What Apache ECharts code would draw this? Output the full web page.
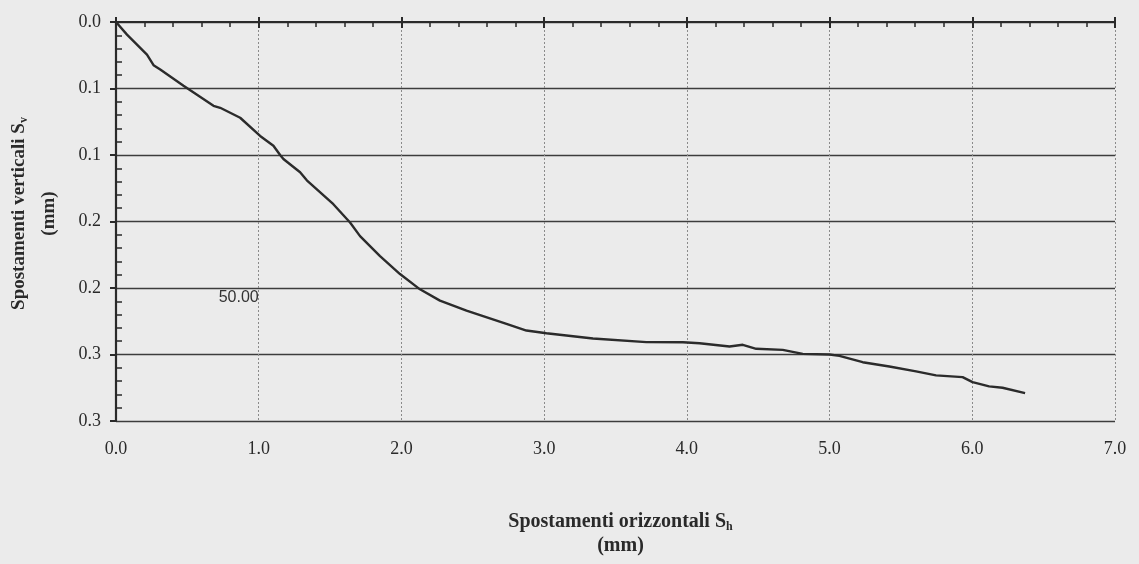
<!DOCTYPE html>
<html>
<head>
<meta charset="utf-8">
<title>Spostamenti verticali / orizzontali</title>
<script src="https://cdn.jsdelivr.net/npm/echarts@6/dist/echarts.min.js"></script>
<style>
  html, body { margin: 0; padding: 0; background: #ebebeb; }
  #chart { width: 1139px; height: 564px; }
</style>
</head>
<body>
<div id="chart"></div>
<script>
// Horizontal displacement Sh (mm) and vertical displacement Sv (mm)
const sh = [0, 0.077, 0.217, 0.263, 0.31, 0.473, 0.683, 0.73, 0.87, 1.01, 1.103, 1.15, 1.173, 1.29, 1.337,
  1.523, 1.64, 1.71, 1.85, 1.99, 2.13, 2.27, 2.456, 2.736, 2.876, 3.016, 3.342, 3.716, 3.972, 4.089,
  4.299, 4.392, 4.486, 4.672, 4.812, 5.0, 5.069, 5.232, 5.419, 5.606, 5.746, 5.932, 6.002, 6.118,
  6.212, 6.37];
const sv = [0, 0.0095, 0.0245, 0.0325, 0.0357, 0.048, 0.063, 0.0645, 0.072, 0.0857, 0.093, 0.1, 0.103, 0.113, 0.119,
  0.137, 0.1508, 0.161, 0.176, 0.1895, 0.201, 0.2095, 0.217, 0.227, 0.232, 0.234, 0.238, 0.2407, 0.2408, 0.2415,
  0.244, 0.2427, 0.2457, 0.2465, 0.2495, 0.25, 0.251, 0.2558, 0.259, 0.2627, 0.2657, 0.267, 0.2708, 0.274,
  0.275, 0.279];

// Tick labels as printed (one decimal)
const xTickLabels = ['0.0', '1.0', '2.0', '3.0', '4.0', '5.0', '6.0', '7.0'];
const yTickLabels = ['0.0', '0.1', '0.1', '0.2', '0.2', '0.3', '0.3'];

// Curve label
const seriesName = '50.00';
const seriesLabelAt = [0.86, 0.207];

const points = sh.map((x, i) => [x, sv[i]]);

const ink = '#2a2a2a';
const serif = 'Liberation Serif';

const chart = echarts.init(document.getElementById('chart'), null, { renderer: 'canvas' });

chart.setOption({
  backgroundColor: '#ebebeb',
  animation: false,
  grid: { left: 116, right: 24, top: 22, bottom: 143, outerBoundsMode: 'none', containLabel: false },
  xAxis: [
    {
      // axis line along Sv = 0 (top), inward ticks and dotted vertical grid
      type: 'value', min: 0, max: 7, interval: 1, position: 'top',
      axisLine: { show: true, onZero: false, lineStyle: { color: ink, width: 2.2 } },
      axisTick: { show: true, inside: true, length: 6, lineStyle: { color: ink, width: 2 } },
      minorTick: { show: true, splitNumber: 5, length: 5, lineStyle: { color: ink, width: 1.5 } },
      axisLabel: { show: false },
      splitLine: { show: true, lineStyle: { color: '#8a8a8a', width: 1, type: [2, 2] } }
    },
    {
      // short outward stubs of the major ticks
      type: 'value', min: 0, max: 7, interval: 1, position: 'top',
      axisLine: { show: false, onZero: false },
      axisTick: { show: true, inside: false, length: 5, lineStyle: { color: ink, width: 2 } },
      axisLabel: { show: false },
      splitLine: { show: false }
    },
    {
      // labels and title below the plot
      type: 'value', min: 0, max: 7, interval: 1, position: 'bottom',
      axisLine: { show: false, onZero: false },
      axisTick: { show: false },
      axisLabel: {
        show: true, margin: 19, color: ink, fontFamily: serif, fontSize: 18,
        formatter: v => xTickLabels[Math.round(v)]
      },
      splitLine: { show: false },
      name: '{b|Spostamenti orizzontali S}{s|h}\n{b|(mm)}',
      nameLocation: 'middle', nameGap: 89,
      nameTextStyle: {
        align: 'center',
        padding: [0, 0, 0, 10],
        rich: {
          b: { fontFamily: serif, fontWeight: 'bold', fontSize: 20, color: ink, lineHeight: 24 },
          s: { fontFamily: serif, fontWeight: 'bold', fontSize: 12, color: ink, padding: [9, 0, 0, 0], lineHeight: 24 }
        }
      }
    }
  ],
  yAxis: [
    {
      type: 'value', inverse: true, min: 0, max: 0.3, interval: 0.05, position: 'left',
      axisLine: { show: true, onZero: false, lineStyle: { color: ink, width: 2.2 } },
      axisTick: { show: true, inside: false, length: 6, lineStyle: { color: ink, width: 2 } },
      axisLabel: {
        show: true, margin: 15, color: ink, fontFamily: serif, fontSize: 18,
        formatter: v => yTickLabels[Math.round(v / 0.05)]
      },
      splitLine: { show: true, lineStyle: { color: '#3c3c3c', width: 1.4 } },
      name: '{b|Spostamenti verticali S}{s|v}\n{b|(mm)}',
      nameLocation: 'middle', nameGap: 52, nameRotate: 90,
      nameTextStyle: {
        align: 'center',
        padding: [0, 0, 0, 16],
        rich: {
          b: { fontFamily: serif, fontWeight: 'bold', fontSize: 19, color: ink, lineHeight: 30 },
          s: { fontFamily: serif, fontWeight: 'bold', fontSize: 12, color: ink, padding: [9, 0, 0, 0], lineHeight: 30 }
        }
      }
    },
    {
      // inward minor ticks on the Sv axis
      type: 'value', inverse: true, min: 0, max: 0.3, interval: 0.05, position: 'left',
      axisLine: { show: false, onZero: false },
      axisTick: { show: false, inside: true },
      minorTick: { show: true, splitNumber: 5, length: 6, lineStyle: { color: ink, width: 1.5 } },
      axisLabel: { show: false },
      splitLine: { show: false }
    }
  ],
  series: [
    {
      name: seriesName,
      type: 'line',
      xAxisIndex: 0,
      yAxisIndex: 0,
      data: points,
      showSymbol: false,
      smooth: false,
      lineStyle: { color: '#2b2b2b', width: 2.4 },
      markPoint: {
        symbol: 'circle', symbolSize: 0,
        label: {
          show: true, position: 'inside', formatter: seriesName,
          fontFamily: 'Liberation Sans', fontSize: 16, color: '#333'
        },
        data: [{ coord: seriesLabelAt }]
      }
    }
  ]
});
</script>
</body>
</html>
